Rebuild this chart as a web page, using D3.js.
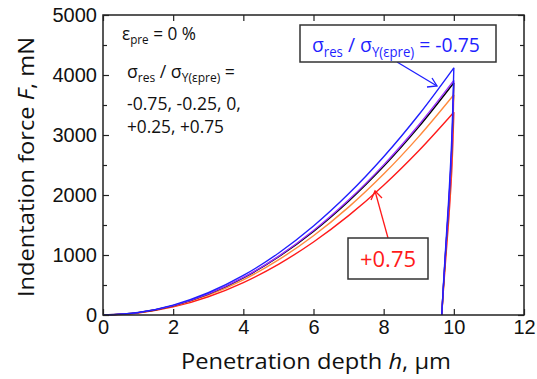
<!DOCTYPE html>
<html>
<head>
<meta charset="utf-8">
<script src="https://cdn.jsdelivr.net/npm/d3@7"></script>
<style>
  body { margin: 0; background: #fff; }
  svg { display: block; }
</style>
</head>
<body>
<div id="chart"></div>
<script>
// donnees
var hCharge = [0, 1, 2, 3, 4, 5, 6, 7, 8, 9, 10];
var hDecharge = [10, 9.94, 9.85, 9.77, 9.7, 9.655];

var series = ["-0.75", "-0.25", "0", "+0.25", "+0.75"];
var couleurs = ["#1f1fff", "#9b30ff", "#000000", "#ff8a3d", "#ff1a1a"];

var chargeM075 = [0, 41, 165, 371, 659, 1030, 1483, 2019, 2637, 3337, 4120];
var chargeM025 = [0, 39, 156, 352, 626, 978, 1408, 1916, 2502, 3167, 3910];
var charge0    = [0, 39, 155, 348, 619, 968, 1393, 1896, 2477, 3135, 3870];
var chargeP025 = [0, 37, 147, 330, 587, 918, 1321, 1798, 2349, 2973, 3670];
var chargeP075 = [0, 34, 135, 304, 541, 845, 1217, 1656, 2163, 2738, 3380];

var dechargeM075 = [4120, 2925, 1895, 1155, 475, 0];
var dechargeM025 = [3910, 2775, 1800, 1095, 450, 0];
var decharge0    = [3870, 2750, 1780, 1083, 445, 0];
var dechargeP025 = [3670, 2605, 1690, 1030, 420, 0];
var dechargeP075 = [3380, 2400, 1555, 945, 390, 0];

var xTicks = [0, 2, 4, 6, 8, 10, 12];
var yTicks = [0, 1000, 2000, 3000, 4000, 5000];
var yMinor = [500, 1500, 2500, 3500, 4500];

var charges = [chargeM075, chargeM025, charge0, chargeP025, chargeP075];
var decharges = [dechargeM075, dechargeM025, decharge0, dechargeP025, dechargeP075];

var largeur = 537, hauteur = 379;
var marge = {gauche: 103, droite: 13, haut: 15, bas: 64};

var svg = d3.select("#chart").append("svg")
  .attr("width", largeur).attr("height", hauteur);

var x = d3.scaleLinear().domain([0, 12]).range([marge.gauche, largeur - marge.droite]);
var y = d3.scaleLinear().domain([0, 5000]).range([hauteur - marge.bas, marge.haut]);

var x0 = x(0), x1 = x(12), y0 = y(0), y1 = y(5000);

// courbes
var ligne = d3.line()
  .x(function(d) { return x(d[0]); })
  .y(function(d) { return y(d[1]); })
  .curve(d3.curveCatmullRom);

var g = svg.append("g");
for (var i = series.length - 1; i >= 0; i--) {
  var pts = hCharge.map(function(h, k) { return [h, charges[i][k]]; });
  g.append("path").attr("d", ligne(pts))
    .attr("fill", "none").attr("stroke", couleurs[i]).attr("stroke-width", 1.4);
}
for (var i = series.length - 1; i >= 0; i--) {
  var pts = hDecharge.map(function(h, k) { return [h, decharges[i][k]]; });
  g.append("path").attr("d", ligne(pts))
    .attr("fill", "none").attr("stroke", couleurs[i]).attr("stroke-width", 1.4);
}

// cadre et graduations vers l'interieur
svg.append("rect").attr("x", x0).attr("y", y1)
  .attr("width", x1 - x0).attr("height", y0 - y1)
  .attr("fill", "none").attr("stroke", "#222").attr("stroke-width", 1.5);

var fmt = d3.format("d");
var axeBas = d3.axisBottom(x).tickValues(xTicks).tickSizeInner(-6).tickSizeOuter(0).tickPadding(5).tickFormat(fmt);
var axeHaut = d3.axisTop(x).tickValues(xTicks).tickSizeInner(-6).tickSizeOuter(0).tickFormat("");
var axeGauche = d3.axisLeft(y).tickValues(yTicks).tickSizeInner(-6).tickSizeOuter(0).tickPadding(6).tickFormat(fmt);
var axeDroit = d3.axisRight(y).tickValues(yTicks).tickSizeInner(-6).tickSizeOuter(0).tickFormat("");
var mineurG = d3.axisLeft(y).tickValues(yMinor).tickSizeInner(-4).tickSizeOuter(0).tickFormat("");
var mineurD = d3.axisRight(y).tickValues(yMinor).tickSizeInner(-4).tickSizeOuter(0).tickFormat("");

svg.append("g").attr("transform", "translate(0," + y0 + ")").call(axeBas);
svg.append("g").attr("transform", "translate(0," + y1 + ")").call(axeHaut);
svg.append("g").attr("transform", "translate(" + x0 + ",0)").call(axeGauche);
svg.append("g").attr("transform", "translate(" + x1 + ",0)").call(axeDroit);
svg.append("g").attr("transform", "translate(" + x0 + ",0)").call(mineurG);
svg.append("g").attr("transform", "translate(" + x1 + ",0)").call(mineurD);

svg.selectAll(".domain").remove();
svg.selectAll("g").attr("font-family", null).attr("font-size", null);
svg.selectAll(".tick line").attr("stroke", "#222").attr("stroke-width", 1.2);
svg.selectAll(".tick text")
  .style("font-family", "'Liberation Sans', Arial, sans-serif")
  .style("font-size", "20px").attr("fill", "#111");

// etire un texte horizontalement jusqu'a une largeur donnee
function etire(t, gauche, cible) {
  var w = t.node().getBBox().width;
  var k = cible / w;
  t.attr("transform", "translate(" + gauche + ",0) scale(" + k + ",1) translate(" + (-gauche) + ",0)");
}

// titres des axes
var policeTitre = "'Open Sans', sans-serif";
var tx = svg.append("text").attr("x", 181).attr("y", 369)
  .attr("font-family", policeTitre).attr("font-size", 22).attr("fill", "#111");
tx.append("tspan").text("Penetration depth ");
tx.append("tspan").attr("font-style", "italic").text("h");
tx.append("tspan").text(", \u03bcm");
etire(tx, 181, 270);

var ty = svg.append("text").attr("x", -297).attr("y", 34)
  .attr("font-family", policeTitre).attr("font-size", 22).attr("fill", "#111");
ty.append("tspan").text("Indentation force ");
ty.append("tspan").attr("font-style", "italic").text("F");
ty.append("tspan").text(", mN");
etire(ty, -297, 260);
ty.attr("transform", "rotate(-90) " + ty.attr("transform"));

// annotations
function texteIndice(parent, xx, yy, morceaux, taille, couleur) {
  var t = parent.append("text").attr("x", xx).attr("y", yy)
    .attr("font-family", policeTitre).attr("font-size", taille).attr("fill", couleur);
  morceaux.forEach(function(m) {
    var sp = t.append("tspan").text(m[0]);
    if (m[1]) sp.attr("font-size", taille * 0.68).attr("dy", taille * 0.25);
    else sp.attr("dy", m[2] ? -taille * 0.25 : 0);
  });
  return t;
}

var a1 = texteIndice(svg, 122, 40, [["\u03b5"], ["pre", true], [" = 0 %", false, true]], 18, "#111");
etire(a1, 122, 74);
var a2 = texteIndice(svg, 127, 78, [["\u03c3"], ["res", true], [" / \u03c3", false, true], ["Y(\u03b5pre)", true], [" =", false, true]], 18, "#111");
etire(a2, 127, 108);
var a3 = svg.append("text").attr("x", 127).attr("y", 110).attr("font-family", policeTitre)
  .attr("font-size", 18).attr("fill", "#111").text("-0.75, -0.25, 0,");
etire(a3, 127, 114);
var a4 = svg.append("text").attr("x", 127).attr("y", 133).attr("font-family", policeTitre)
  .attr("font-size", 18).attr("fill", "#111").text("+0.25, +0.75");
etire(a4, 127, 97);

// boite bleue
svg.append("line").attr("x1", 397).attr("y1", 62).attr("x2", 437).attr("y2", 86)
  .attr("stroke", "#1f1fff").attr("stroke-width", 1.3);
svg.append("path").attr("d", "M427,87 L437,86 L432,78")
  .attr("fill", "none").attr("stroke", "#1f1fff").attr("stroke-width", 1.3);
svg.append("rect").attr("x", 300).attr("y", 25).attr("width", 196).attr("height", 37)
  .attr("fill", "#fff").attr("stroke", "#333").attr("stroke-width", 1.5);
var b1 = texteIndice(svg, 312, 52, [["\u03c3"], ["res", true], [" / \u03c3", false, true], ["Y(\u03b5pre)", true], [" = -0.75", false, true]], 20, "#1f1fff");
etire(b1, 312, 168);

// boite rouge
svg.append("line").attr("x1", 388).attr("y1", 238).attr("x2", 375).attr("y2", 191)
  .attr("stroke", "#ff1a1a").attr("stroke-width", 1.3);
svg.append("path").attr("d", "M371,200 L375,191 L382,198")
  .attr("fill", "none").attr("stroke", "#ff1a1a").attr("stroke-width", 1.3);
svg.append("rect").attr("x", 348).attr("y", 238).attr("width", 80).attr("height", 41)
  .attr("fill", "#fff").attr("stroke", "#333").attr("stroke-width", 1.5);
svg.append("text").attr("x", 388).attr("y", 267).attr("text-anchor", "middle")
  .attr("font-family", policeTitre).attr("font-size", 22).attr("fill", "#ff1a1a").text("+0.75");
</script>
</body>
</html>
